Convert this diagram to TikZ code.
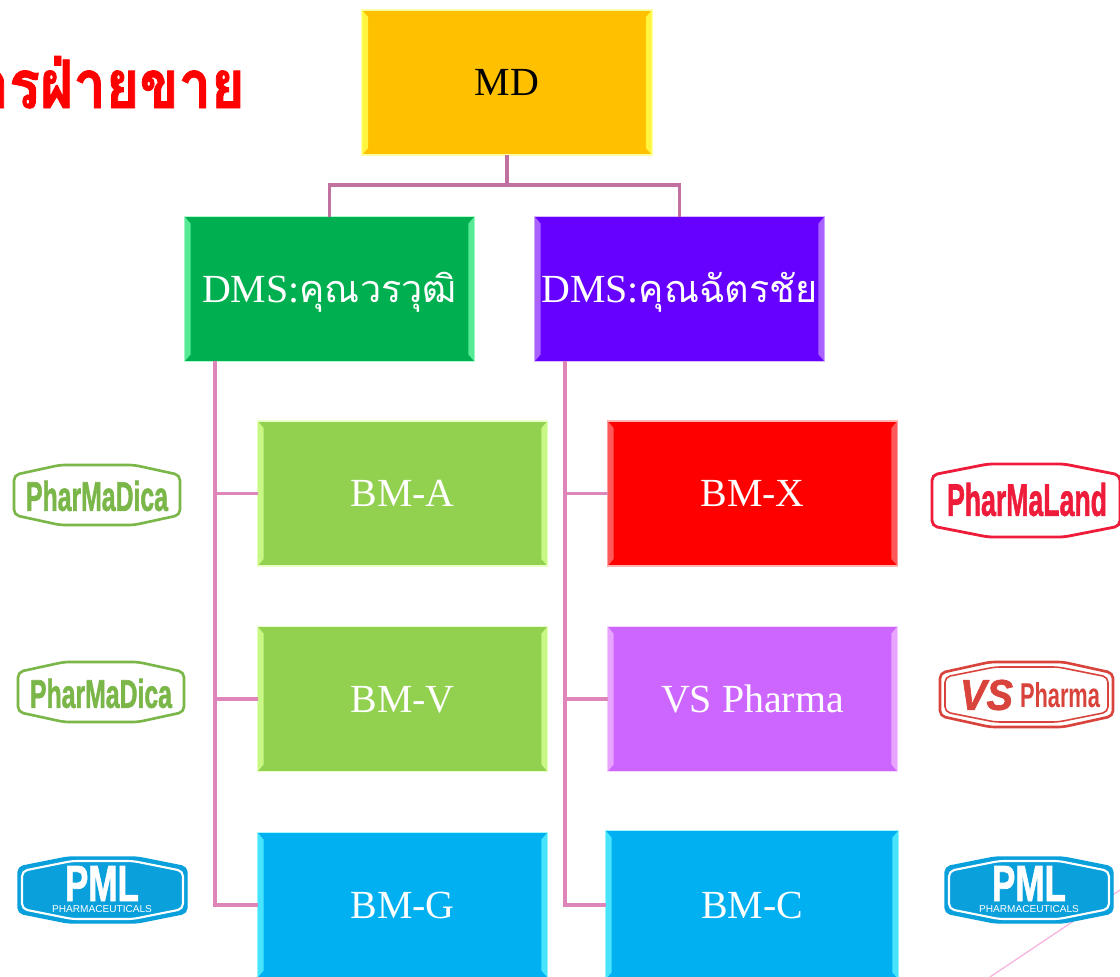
\documentclass[tikz,border=0pt]{standalone}
\usepackage{fontspec}
\setmainfont{Liberation Serif}
\setsansfont{Liberation Sans}
\newfontfamily\thaifont[Script=Thai]{Loma}
\newfontfamily\titlefont[Script=Thai,BoldFeatures={FakeBold=1.4}]{Loma}
\newfontfamily\logofont[FakeBold=1.6]{Liberation Sans Bold}
\usetikzlibrary{calc,positioning}

\definecolor{mdfill}{HTML}{FFC000}
\definecolor{mdlit}{HTML}{FFFF4D}
\definecolor{dmsafill}{HTML}{00B050}
\definecolor{dmsalit}{HTML}{66F5A0}
\definecolor{dmsbfill}{HTML}{6600FF}
\definecolor{dmsblit}{HTML}{B573FF}
\definecolor{bmgreen}{HTML}{92D050}
\definecolor{bmgreenlit}{HTML}{D2FF8F}
\definecolor{bmred}{HTML}{FF0000}
\definecolor{bmredlit}{HTML}{FF6A6A}
\definecolor{bmviolet}{HTML}{CC66FF}
\definecolor{bmvioletlit}{HTML}{EFB0FF}
\definecolor{bmblue}{HTML}{00B0F0}
\definecolor{bmbluelit}{HTML}{55EEFF}
\definecolor{linktop}{HTML}{C1719F}
\definecolor{linkpink}{HTML}{DE85BA}
\definecolor{strayline}{HTML}{F6B8E2}
\definecolor{logogreen}{HTML}{7AB648}
\definecolor{logored}{HTML}{EE1C3A}
\definecolor{logovs}{HTML}{D8433B}
\definecolor{logoblue}{HTML}{0AA0DC}

\tikzset{
  orgbox/.style={minimum width=5.78cm,minimum height=2.88cm,inner sep=0pt,
                 text=white,text height=15pt,text depth=0pt,
                 font=\fontsize{22.7}{26}\selectfont},
  uplink/.style={linktop,line width=2pt},
  sidelink/.style={linkpink,line width=2pt},
  logotext/.style={inner sep=0pt}
}

% left, right, top, bottom, flat inset, corner drop
\newcommand{\platepath}[6]{
  (#1,{#3+#6}) -- ({#1+#5},#3) -- ({#2-#5},#3) -- (#2,{#3+#6})
  -- (#2,{#4-#6}) -- ({#2-#5},#4) -- ({#1+#5},#4) -- (#1,{#4-#6}) -- cycle
}
\newcommand{\thaitext}[1]{{\thaifont\fontsize{21.5}{26}\selectfont #1}}

\begin{document}
\begin{tikzpicture}[x=0.02cm,y=-0.02cm]
\useasboundingbox (0,0) rectangle (1120,977);

\node[anchor=base east,red,inner sep=0pt,font=\titlefont\bfseries\fontsize{38}{44}\selectfont] (title) at (245,108) {\scalebox{0.86}[1]{ารฝ่ายขาย}};

\coordinate (strayA) at (990,977);
\coordinate (strayB) at (1120,890);
\draw[strayline,line width=0.8pt] (strayA) -- (strayB);

\node[orgbox,fill=mdfill,text=black] (md) at (507,82.5) {MD};
\node[orgbox,fill=dmsafill] (dmsA) at (329.5,289) {DMS:\thaitext{คุณวรวุฒิ}};
\node[orgbox,fill=dmsbfill] (dmsB) at (679.5,289) {DMS:\thaitext{คุณฉัตรชัย}};
\node[orgbox,fill=bmgreen] (bmA) at (402.5,493.5) {BM-A};
\node[orgbox,fill=bmgreen] (bmV) at (402.5,699) {BM-V};
\node[orgbox,fill=bmblue] (bmG) at (402.5,905) {BM-G};
\node[orgbox,fill=bmred] (bmX) at (752.5,493.5) {BM-X};
\node[orgbox,fill=bmviolet] (vsP) at (752.5,699) {VS Pharma};
\node[orgbox,fill=bmblue,minimum width=5.84cm,minimum height=2.96cm] (bmC) at (752,905) {BM-C};

% bevels
\foreach \n/\c in {md/mdlit,dmsA/dmsalit,dmsB/dmsblit,bmA/bmgreenlit,bmV/bmgreenlit,
                   bmG/bmbluelit,bmX/bmredlit,vsP/bmvioletlit,bmC/bmbluelit}{
  \fill[\c,opacity=0.85] (\n.north west) -- ++(6,7) -- ($(\n.south west)+(6,-7)$) -- (\n.south west) -- cycle;
  \fill[\c,opacity=0.85] (\n.north east) -- ++(-6,7) -- ($(\n.south east)+(-6,-7)$) -- (\n.south east) -- cycle;
  \draw[\c,opacity=0.5,line width=0.8pt] (\n.north west) rectangle (\n.south east);
}

\coordinate (bus) at (507,185);
\coordinate (trunkA) at (215,361);
\coordinate (trunkB) at (565,361);
\draw[uplink] (md.south) -- (bus);
\draw[uplink] (dmsA.north) |- (bus);
\draw[uplink] (dmsB.north) |- (bus);
\foreach \n in {bmA,bmV,bmG}
  \draw[sidelink] (trunkA) |- (\n.west);
\foreach \n in {bmX,vsP,bmC}
  \draw[sidelink] (trunkB) |- (\n.west);

% logos
\draw[logogreen,line width=1.5pt,fill=white,rounded corners=3pt] \platepath{14}{180}{465}{525}{46}{10};
\node[logotext,logogreen] (logoA) at (97,496) {\resizebox{2.84cm}{0.6cm}{\logofont PharMaDica}};
\draw[logogreen,line width=1.5pt,fill=white,rounded corners=3pt] \platepath{18}{184}{662}{722}{46}{10};
\node[logotext,logogreen] (logoV) at (101,693.5) {\resizebox{2.84cm}{0.58cm}{\logofont PharMaDica}};
\draw[logored,line width=1.6pt,fill=white,rounded corners=3pt] \platepath{932}{1120}{464}{537}{56}{11};
\node[logotext,logored] (logoX) at (1027,499.5) {\resizebox{3.2cm}{0.66cm}{\logofont PharMaLand}};
\draw[logovs,line width=1.5pt,fill=white,rounded corners=3pt] \platepath{940}{1113}{662}{727}{50}{11};
\draw[logovs,line width=0.9pt,rounded corners=3pt] \platepath{945}{1108}{667}{722}{50}{10};
\node[logotext,logovs] (logoVS) at (986.5,695) {\resizebox{1.06cm}{0.6cm}{\logofont\itshape VS}};
\node[logotext,logovs] (logoP) at (1060,695.5) {\resizebox{1.6cm}{0.5cm}{\sffamily\bfseries Pharma}};

\foreach \l/\r/\cx/\nm in {18/187/102/logoG,945/1113/1029/logoC}{
  \draw[logoblue,line width=0.8pt,fill=logoblue,rounded corners=3pt] \platepath{\l}{\r}{857}{923}{50}{10};
  \draw[white,line width=1.2pt,rounded corners=3pt] \platepath{\l+4}{\r-4}{861}{919}{50}{10};
  \node[logotext,white] (\nm) at (\cx,883.5) {\resizebox{1.48cm}{0.7cm}{\logofont PML}};
  \node[logotext,white] (\nm s) at (\cx,909) {\resizebox{2cm}{0.14cm}{\sffamily PHARMACEUTICALS}};
}
\end{tikzpicture}
\end{document}
